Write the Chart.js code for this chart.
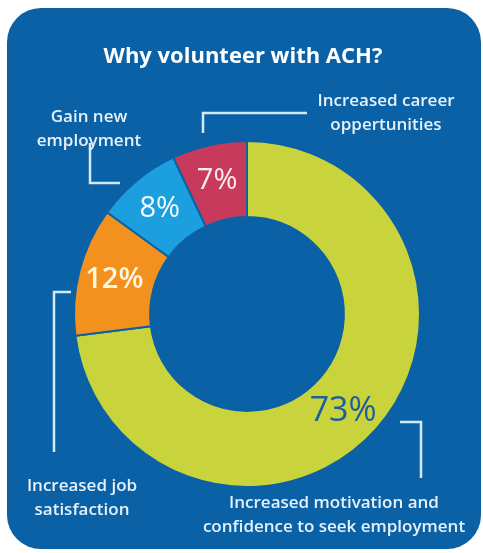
<!DOCTYPE html>
<html>
<head>
<meta charset="utf-8">
<script src="https://cdn.jsdelivr.net/npm/chart.js@4/dist/chart.umd.min.js"></script>
<style>
  html, body { margin: 0; padding: 0; background: #fff; }
  #wrap { width: 483px; height: 553px; }
</style>
</head>
<body>
<div id="wrap"><canvas id="volChart" width="483" height="553"></canvas></div>
<script>
const titleText = 'Why volunteer with ACH?';
const categories = [
  'Increased motivation and confidence to seek employment',
  'Increased job satisfaction',
  'Gain new employment',
  'Increased career oppertunities'
];
const shares = [73, 12, 8, 7];
const sliceColors = ['#c9d43c', '#f3911f', '#1c9fdf', '#c73a5b'];
const shareLabelColors = ['#1f5e9c', '#fff4dc', '#f4fbff', '#fbeef0'];
const shareLabelSizes = [34, 29, 29, 29];
// callout text as printed, line by line
const calloutLines = [
  ['Increased motivation and', 'confidence to seek employment'],
  ['Increased job', 'satisfaction'],
  ['Gain new', 'employment'],
  ['Increased career', 'oppertunities']
];

const PANEL = '#0b61a6';
const INK = '#e6f2fb';

// callout placement, offsets from the doughnut centre
const calloutLayout = [
  { text: [87, 189], line: [[153, 108], [174, 108], [174, 164]] },
  { text: [-165, 172], line: [[-176, -22], [-193, -22], [-193, 138]] },
  { text: [-158, -197], line: [[-157, -171], [-157, -131], [-127, -131]] },
  { text: [139, -213], line: [[60, -201], [-44, -201], [-44, -181]] }
];

const panelPlugin = {
  id: 'panel',
  beforeDraw(chart) {
    const ctx = chart.ctx;
    ctx.save();
    ctx.fillStyle = PANEL;
    ctx.beginPath();
    ctx.roundRect(7, 8, 474, 541, 34);
    ctx.fill();
    ctx.fillStyle = '#ffffff';
    ctx.font = 'bold 22px "Open Sans", sans-serif';
    ctx.textAlign = 'center';
    ctx.textBaseline = 'middle';
    ctx.fillText(titleText, 243, 57);
    ctx.restore();
  }
};

const labelPlugin = {
  id: 'shareLabels',
  afterDatasetsDraw(chart) {
    const ctx = chart.ctx;
    const arcs = chart.getDatasetMeta(0).data;
    const cx = arcs[0].x, cy = arcs[0].y;
    ctx.save();
    ctx.textAlign = 'center';
    ctx.textBaseline = 'middle';
    arcs.forEach((arc, i) => {
      const p = arc.getProps(['startAngle', 'endAngle', 'innerRadius', 'outerRadius']);
      // the big label sits a little further round the ring
      const a = (p.startAngle + p.endAngle) / 2 + (i === 0 ? 0.07 : 0);
      const r = (p.innerRadius + p.outerRadius) / 2 + 2;
      ctx.fillStyle = shareLabelColors[i];
      ctx.font = (i === 1 ? '600 ' : '500 ') + shareLabelSizes[i] + 'px "Open Sans", sans-serif';
      ctx.fillText(shares[i] + '%', cx + Math.cos(a) * r, cy + Math.sin(a) * r);
    });

    // callouts
    ctx.strokeStyle = '#d4e9f7';
    ctx.lineWidth = 2.5;
    ctx.fillStyle = INK;
    ctx.font = '600 17px "Open Sans", sans-serif';
    calloutLayout.forEach((c, i) => {
      ctx.beginPath();
      c.line.forEach((pt, k) => {
        if (k === 0) ctx.moveTo(cx + pt[0], cy + pt[1]);
        else ctx.lineTo(cx + pt[0], cy + pt[1]);
      });
      ctx.stroke();
      calloutLines[i].forEach((ln, k) => {
        ctx.fillText(ln, cx + c.text[0], cy + c.text[1] + k * 24);
      });
    });
    ctx.restore();
  }
};

new Chart(document.getElementById('volChart'), {
  type: 'doughnut',
  data: {
    labels: categories,
    datasets: [{
      data: shares,
      backgroundColor: sliceColors,
      borderColor: PANEL,
      borderWidth: 2
    }]
  },
  options: {
    responsive: false,
    animation: false,
    cutout: '56%',
    layout: { padding: { left: 73, right: 62, top: 140, bottom: 65 } },
    plugins: {
      legend: { display: false },
      tooltip: { enabled: false }
    }
  },
  plugins: [panelPlugin, labelPlugin]
});
</script>
</body>
</html>
